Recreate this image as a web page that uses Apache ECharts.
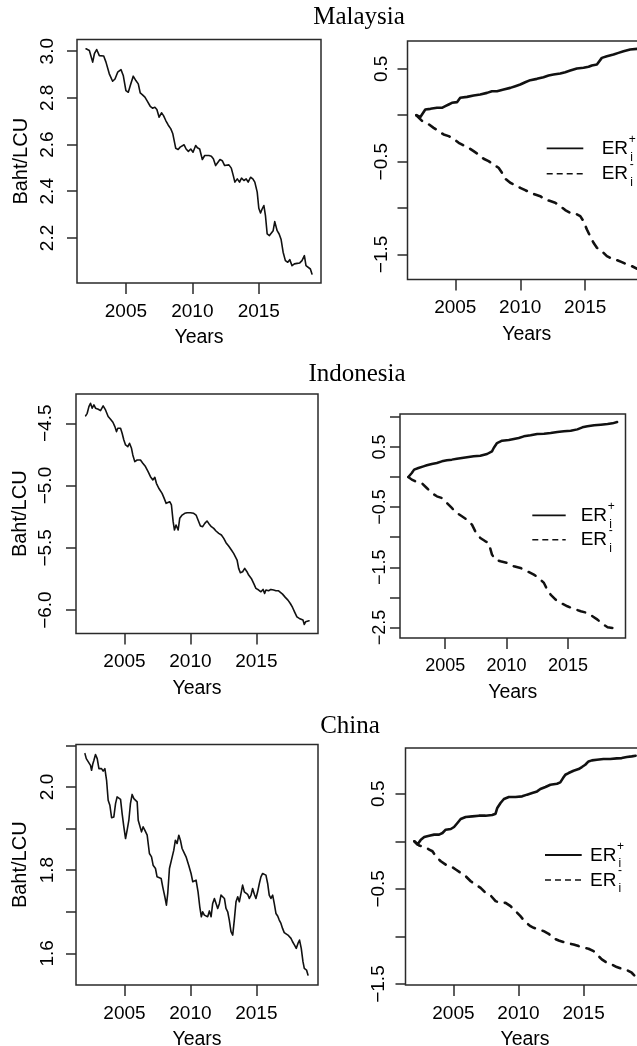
<!DOCTYPE html>
<html>
<head>
<meta charset="utf-8">
<script src="https://cdn.jsdelivr.net/npm/echarts@6/dist/echarts.min.js"></script>
<style>
html,body{margin:0;padding:0;background:#fff;}
#chart{width:637px;height:1046px;}
</style>
</head>
<body>
<div id="chart"></div>
<script>
// ---------------- DATA ----------------
const xTickYears = [2005, 2010, 2015];

const malaysiaRate = [[2002.00,3.010],[2002.25,3.003],[2002.38,2.999],[2002.50,2.953],[2002.63,2.989],[2002.80,3.007],[2003.00,2.981],[2003.13,2.974],[2003.33,2.979],[2003.50,2.953],[2003.63,2.946],[2003.75,2.903],[2004.00,2.871],[2004.18,2.881],[2004.38,2.910],[2004.63,2.921],[2004.80,2.896],[2005.00,2.831],[2005.18,2.824],[2005.33,2.853],[2005.55,2.893],[2005.75,2.874],[2005.93,2.860],[2006.08,2.821],[2006.25,2.813],[2006.43,2.803],[2006.63,2.784],[2006.83,2.764],[2007.00,2.756],[2007.18,2.760],[2007.33,2.750],[2007.50,2.717],[2007.68,2.736],[2007.83,2.724],[2008.00,2.703],[2008.18,2.684],[2008.38,2.667],[2008.53,2.646],[2008.75,2.584],[2008.93,2.579],[2009.08,2.589],[2009.20,2.581],[2009.38,2.599],[2009.53,2.581],[2009.70,2.571],[2009.88,2.581],[2010.05,2.567],[2010.25,2.596],[2010.38,2.586],[2010.55,2.581],[2010.75,2.536],[2010.93,2.553],[2011.08,2.560],[2011.25,2.553],[2011.43,2.550],[2011.58,2.539],[2011.75,2.510],[2011.93,2.524],[2012.08,2.536],[2012.25,2.531],[2012.43,2.510],[2012.58,2.517],[2012.75,2.513],[2012.93,2.499],[2013.08,2.467],[2013.20,2.439],[2013.38,2.453],[2013.55,2.439],[2013.70,2.456],[2013.88,2.446],[2014.05,2.453],[2014.20,2.439],[2014.38,2.460],[2014.55,2.453],[2014.70,2.439],[2014.88,2.396],[2015.00,2.327],[2015.13,2.307],[2015.25,2.324],[2015.38,2.339],[2015.50,2.296],[2015.63,2.217],[2015.80,2.210],[2015.95,2.206],[2016.08,2.231],[2016.20,2.270],[2016.38,2.231],[2016.53,2.217],[2016.68,2.193],[2016.83,2.139],[2017.00,2.103],[2017.18,2.096],[2017.33,2.107],[2017.50,2.081],[2017.68,2.089],[2017.88,2.091],[2018.08,2.093],[2018.25,2.103],[2018.43,2.124],[2018.55,2.081],[2018.70,2.074],[2018.88,2.067],[2019.00,2.046]];

const malaysiaPos = [[2002.00,0.000],[2002.31,-0.018],[2002.69,0.062],[2003.08,0.069],[2003.59,0.080],[2003.97,0.080],[2004.23,0.098],[2004.49,0.116],[2004.74,0.134],[2005.13,0.141],[2005.38,0.188],[2005.90,0.198],[2006.41,0.213],[2006.92,0.224],[2007.44,0.241],[2007.82,0.259],[2008.21,0.259],[2008.72,0.277],[2009.23,0.295],[2009.62,0.313],[2010.00,0.331],[2010.38,0.356],[2010.77,0.378],[2011.28,0.392],[2011.79,0.410],[2012.18,0.428],[2012.56,0.439],[2013.08,0.450],[2013.46,0.464],[2013.85,0.482],[2014.36,0.504],[2014.87,0.511],[2015.26,0.522],[2015.51,0.536],[2015.90,0.547],[2016.28,0.618],[2016.67,0.636],[2017.18,0.654],[2017.56,0.672],[2017.95,0.690],[2018.46,0.708],[2019.00,0.715]];

const malaysiaNeg = [[2002.00,0.000],[2002.44,-0.061],[2002.95,-0.097],[2003.33,-0.136],[2003.72,-0.171],[2004.10,-0.207],[2004.49,-0.225],[2004.87,-0.254],[2005.26,-0.297],[2005.64,-0.326],[2006.03,-0.351],[2006.41,-0.387],[2006.79,-0.423],[2007.18,-0.469],[2007.56,-0.495],[2007.95,-0.531],[2008.33,-0.566],[2008.59,-0.620],[2008.85,-0.685],[2009.23,-0.728],[2009.62,-0.753],[2010.00,-0.782],[2010.38,-0.807],[2010.77,-0.836],[2011.15,-0.854],[2011.54,-0.872],[2011.92,-0.908],[2012.31,-0.925],[2012.69,-0.943],[2013.08,-0.979],[2013.46,-1.022],[2013.85,-1.051],[2014.23,-1.058],[2014.62,-1.087],[2014.87,-1.141],[2015.13,-1.231],[2015.38,-1.303],[2015.64,-1.374],[2015.90,-1.428],[2016.28,-1.464],[2016.67,-1.518],[2017.05,-1.547],[2017.44,-1.561],[2017.82,-1.583],[2018.21,-1.608],[2018.59,-1.626],[2019.00,-1.654]];

const indonesiaRate = [[2002.05,-4.441],[2002.17,-4.420],[2002.30,-4.366],[2002.42,-4.339],[2002.55,-4.379],[2002.68,-4.353],[2002.80,-4.379],[2003.01,-4.387],[2003.18,-4.398],[2003.38,-4.361],[2003.56,-4.393],[2003.76,-4.446],[2003.94,-4.468],[2004.12,-4.492],[2004.27,-4.527],[2004.39,-4.567],[2004.49,-4.540],[2004.70,-4.540],[2004.82,-4.580],[2004.95,-4.634],[2005.08,-4.674],[2005.25,-4.688],[2005.38,-4.661],[2005.53,-4.701],[2005.63,-4.754],[2005.78,-4.808],[2005.96,-4.795],[2006.21,-4.795],[2006.39,-4.821],[2006.59,-4.848],[2006.79,-4.888],[2006.97,-4.929],[2007.15,-4.955],[2007.30,-4.934],[2007.42,-4.982],[2007.60,-5.022],[2007.73,-5.030],[2007.85,-5.063],[2007.98,-5.095],[2008.16,-5.143],[2008.31,-5.156],[2008.43,-5.130],[2008.56,-5.156],[2008.69,-5.290],[2008.79,-5.357],[2008.91,-5.317],[2009.07,-5.357],[2009.19,-5.263],[2009.37,-5.237],[2009.57,-5.223],[2009.75,-5.218],[2010.00,-5.218],[2010.25,-5.223],[2010.43,-5.237],[2010.58,-5.277],[2010.76,-5.325],[2010.93,-5.330],[2011.09,-5.304],[2011.26,-5.285],[2011.39,-5.304],[2011.59,-5.330],[2011.77,-5.344],[2011.94,-5.365],[2012.15,-5.384],[2012.35,-5.397],[2012.53,-5.424],[2012.70,-5.459],[2012.90,-5.486],[2013.11,-5.518],[2013.28,-5.545],[2013.41,-5.531],[2013.54,-5.598],[2013.66,-5.665],[2013.79,-5.700],[2013.96,-5.692],[2014.12,-5.665],[2014.29,-5.692],[2014.42,-5.719],[2014.62,-5.746],[2014.80,-5.786],[2014.97,-5.826],[2015.18,-5.839],[2015.35,-5.853],[2015.51,-5.834],[2015.63,-5.866],[2015.73,-5.839],[2015.93,-5.845],[2016.11,-5.834],[2016.31,-5.839],[2016.49,-5.845],[2016.69,-5.845],[2016.82,-5.853],[2016.99,-5.872],[2017.20,-5.898],[2017.40,-5.920],[2017.58,-5.947],[2017.75,-5.979],[2017.90,-6.014],[2018.08,-6.054],[2018.26,-6.067],[2018.41,-6.059],[2018.54,-6.080],[2018.64,-6.115],[2018.74,-6.094],[2018.84,-6.086],[2019.00,-6.086]];

const indonesiaPos = [[2002.00,0.000],[2002.14,-0.028],[2002.28,0.066],[2002.47,0.122],[2002.82,0.149],[2003.23,0.177],[2003.50,0.194],[2003.91,0.216],[2004.32,0.232],[2004.73,0.260],[2005.14,0.277],[2005.54,0.288],[2005.95,0.304],[2006.36,0.315],[2006.77,0.327],[2007.32,0.343],[2007.86,0.354],[2008.41,0.382],[2008.81,0.426],[2008.95,0.481],[2009.22,0.564],[2009.63,0.603],[2010.18,0.614],[2010.59,0.631],[2010.99,0.647],[2011.40,0.675],[2011.95,0.692],[2012.49,0.714],[2013.04,0.719],[2013.58,0.730],[2014.13,0.747],[2014.67,0.758],[2015.22,0.769],[2015.76,0.791],[2016.17,0.825],[2016.58,0.841],[2017.13,0.858],[2017.67,0.869],[2018.22,0.880],[2018.62,0.891],[2019.00,0.913]];

const indonesiaNeg = [[2002.00,0.000],[2002.28,-0.044],[2002.56,-0.072],[2003.09,-0.100],[2003.50,-0.183],[2003.91,-0.266],[2004.32,-0.321],[2004.73,-0.349],[2005.14,-0.432],[2005.54,-0.515],[2005.95,-0.598],[2006.36,-0.653],[2006.77,-0.708],[2007.18,-0.791],[2007.45,-0.902],[2007.86,-1.013],[2008.27,-1.068],[2008.54,-1.096],[2008.81,-1.289],[2009.09,-1.372],[2009.50,-1.400],[2010.04,-1.428],[2010.59,-1.483],[2011.13,-1.511],[2011.68,-1.566],[2012.22,-1.622],[2012.63,-1.677],[2013.04,-1.760],[2013.31,-1.871],[2013.58,-1.954],[2013.99,-2.037],[2014.40,-2.092],[2014.95,-2.147],[2015.49,-2.191],[2016.04,-2.230],[2016.58,-2.258],[2016.99,-2.313],[2017.40,-2.369],[2017.81,-2.441],[2018.22,-2.496],[2018.62,-2.507],[2019.00,-2.562]];

const chinaRate = [[2002.00,2.080],[2002.10,2.068],[2002.25,2.064],[2002.42,2.052],[2002.50,2.040],[2002.60,2.056],[2002.68,2.064],[2002.80,2.078],[2002.93,2.068],[2003.06,2.044],[2003.26,2.044],[2003.38,2.038],[2003.51,2.044],[2003.64,2.016],[2003.76,1.968],[2003.89,1.956],[2004.02,1.926],[2004.19,1.928],[2004.32,1.960],[2004.44,1.976],[2004.57,1.980],[2004.70,1.970],[2004.82,1.936],[2004.95,1.904],[2005.08,1.876],[2005.20,1.896],[2005.33,1.920],[2005.45,1.960],[2005.58,1.982],[2005.71,1.972],[2005.83,1.974],[2005.96,1.964],[2006.04,1.920],[2006.16,1.916],[2006.29,1.892],[2006.41,1.904],[2006.54,1.896],[2006.72,1.884],[2006.89,1.840],[2007.05,1.832],[2007.17,1.812],[2007.35,1.804],[2007.47,1.784],[2007.60,1.788],[2007.78,1.780],[2007.90,1.760],[2008.06,1.736],[2008.18,1.716],[2008.28,1.744],[2008.41,1.804],[2008.56,1.824],[2008.74,1.848],[2008.86,1.872],[2008.99,1.864],[2009.12,1.884],[2009.24,1.872],[2009.37,1.852],[2009.49,1.844],[2009.67,1.832],[2009.87,1.812],[2010.05,1.792],[2010.18,1.772],[2010.30,1.768],[2010.43,1.776],[2010.58,1.748],[2010.71,1.712],[2010.83,1.688],[2010.93,1.700],[2011.06,1.692],[2011.19,1.696],[2011.31,1.688],[2011.44,1.702],[2011.57,1.688],[2011.69,1.720],[2011.82,1.732],[2011.94,1.736],[2012.07,1.708],[2012.20,1.720],[2012.32,1.740],[2012.45,1.744],[2012.58,1.732],[2012.70,1.708],[2012.83,1.700],[2012.95,1.680],[2013.08,1.652],[2013.21,1.644],[2013.33,1.680],[2013.46,1.724],[2013.59,1.736],[2013.71,1.724],[2013.84,1.744],[2013.96,1.764],[2014.09,1.748],[2014.22,1.748],[2014.34,1.742],[2014.47,1.732],[2014.60,1.740],[2014.72,1.756],[2014.85,1.742],[2014.97,1.732],[2015.10,1.748],[2015.23,1.768],[2015.35,1.784],[2015.48,1.792],[2015.61,1.792],[2015.73,1.788],[2015.86,1.768],[2015.98,1.740],[2016.11,1.732],[2016.24,1.740],[2016.36,1.720],[2016.49,1.696],[2016.62,1.690],[2016.74,1.680],[2016.87,1.672],[2016.99,1.660],[2017.12,1.650],[2017.25,1.646],[2017.40,1.644],[2017.50,1.646],[2017.63,1.636],[2017.75,1.628],[2017.90,1.620],[2018.03,1.612],[2018.16,1.624],[2018.28,1.632],[2018.41,1.612],[2018.54,1.580],[2018.64,1.564],[2018.71,1.560],[2018.81,1.560],[2018.92,1.548]];

const chinaPos = [[2002.00,0.000],[2002.24,-0.035],[2002.50,0.017],[2002.76,0.045],[2003.14,0.059],[2003.52,0.070],[2003.90,0.070],[2004.16,0.087],[2004.41,0.122],[2004.80,0.129],[2005.05,0.150],[2005.31,0.192],[2005.56,0.234],[2005.94,0.255],[2006.45,0.262],[2006.96,0.269],[2007.47,0.269],[2007.98,0.276],[2008.24,0.290],[2008.37,0.350],[2008.62,0.402],[2008.88,0.444],[2009.26,0.465],[2009.77,0.465],[2010.28,0.472],[2010.66,0.490],[2011.05,0.507],[2011.43,0.524],[2011.68,0.549],[2012.07,0.570],[2012.45,0.594],[2012.96,0.605],[2013.21,0.619],[2013.42,0.664],[2013.60,0.699],[2013.85,0.717],[2014.23,0.741],[2014.62,0.759],[2014.87,0.780],[2015.13,0.804],[2015.38,0.839],[2015.64,0.850],[2016.02,0.857],[2016.53,0.864],[2017.04,0.864],[2017.55,0.871],[2017.93,0.874],[2018.32,0.885],[2018.70,0.892],[2019.00,0.899]];

const chinaNeg = [[2002.00,0.000],[2002.37,-0.045],[2002.76,-0.059],[2003.14,-0.087],[2003.39,-0.105],[2003.65,-0.157],[2004.03,-0.210],[2004.41,-0.245],[2004.80,-0.262],[2005.18,-0.297],[2005.56,-0.332],[2005.94,-0.367],[2006.33,-0.420],[2006.71,-0.455],[2007.09,-0.490],[2007.47,-0.542],[2007.86,-0.570],[2008.24,-0.629],[2008.62,-0.647],[2009.01,-0.647],[2009.39,-0.682],[2009.77,-0.734],[2010.15,-0.787],[2010.54,-0.850],[2010.92,-0.892],[2011.17,-0.909],[2011.56,-0.927],[2011.94,-0.944],[2012.32,-0.972],[2012.70,-1.021],[2013.09,-1.042],[2013.47,-1.059],[2013.85,-1.073],[2014.23,-1.084],[2014.62,-1.101],[2015.00,-1.119],[2015.38,-1.129],[2015.77,-1.154],[2016.02,-1.189],[2016.40,-1.241],[2016.79,-1.276],[2017.17,-1.294],[2017.55,-1.322],[2017.93,-1.339],[2018.32,-1.353],[2018.70,-1.381],[2019.00,-1.423]];

const malaysiaRateTicks = [2.2, 2.4, 2.6, 2.8, 3.0];
const malaysiaRateLabels = [2.2, 2.4, 2.6, 2.8, 3.0];
const malaysiaAsymTicks = [-1.5, -1.0, -0.5, 0, 0.5];
const malaysiaAsymLabels = [-1.5, -0.5, 0.5];
const indonesiaRateTicks = [-6.0, -5.5, -5.0, -4.5];
const indonesiaRateLabels = [-6.0, -5.5, -5.0, -4.5];
const indonesiaAsymTicks = [-2.5, -2.0, -1.5, -1.0, -0.5, 0, 0.5, 1.0];
const indonesiaAsymLabels = [-2.5, -1.5, -0.5, 0.5];
const chinaRateTicks = [1.6, 1.7, 1.8, 1.9, 2.0, 2.1];
const chinaRateLabels = [1.6, 1.8, 2.0];
const chinaAsymTicks = [-1.5, -1.0, -0.5, 0, 0.5];
const chinaAsymLabels = [-1.5, -0.5, 0.5];

const countries = ['Malaysia', 'Indonesia', 'China'];
const yTitle = 'Baht/LCU';
const xTitle = 'Years';
const posName = 'ER+';
const negName = 'ER-';

// ---------------- LAYOUT ----------------
const X_MIN = 2001.32, X_MAX = 2019.68;
const INK = '#111';
const BOX = '#2a2a2a';

const panels = [
  { box:{left:77, top:39.5, width:244, height:243.5}, yMin:2.007, yMax:3.05,
    ticks:malaysiaRateTicks, labels:malaysiaRateLabels, yLabelMargin:20, yName:true,
    lines:[{data:malaysiaRate, name:'Malaysia', dashed:false, w:1.6}] },
  { box:{left:407.5, top:41, width:238.5, height:238.5}, yMin:-1.77, yMax:0.80,
    ticks:malaysiaAsymTicks, labels:malaysiaAsymLabels, yLabelMargin:16.5, yName:false,
    lines:[{data:malaysiaPos, name:posName, dashed:false, w:2.6},{data:malaysiaNeg, name:negName, dashed:true, w:2.6}] },
  { box:{left:76, top:394, width:242, height:239.5}, yMin:-6.188, yMax:-4.265,
    ticks:indonesiaRateTicks, labels:indonesiaRateLabels, yLabelMargin:20.5, yName:true,
    lines:[{data:indonesiaRate, name:'Indonesia', dashed:false, w:1.6}] },
  { box:{left:400, top:414, width:225.5, height:224}, yMin:-2.674, yMax:1.046,
    ticks:indonesiaAsymTicks, labels:indonesiaAsymLabels, yLabelMargin:11, yName:false,
    lines:[{data:indonesiaPos, name:posName, dashed:false, w:2.5},{data:indonesiaNeg, name:negName, dashed:true, w:2.5}] },
  { box:{left:76, top:744.5, width:242, height:240.5}, yMin:1.524, yMax:2.102,
    ticks:chinaRateTicks, labels:chinaRateLabels, yLabelMargin:18.5, yName:true,
    lines:[{data:chinaRate, name:'China', dashed:false, w:1.6}] },
  { box:{left:405.5, top:748, width:239, height:237}, yMin:-1.51, yMax:0.98,
    ticks:chinaAsymTicks, labels:chinaAsymLabels, yLabelMargin:17.5, yName:false,
    lines:[{data:chinaPos, name:posName, dashed:false, w:2.6},{data:chinaNeg, name:negName, dashed:true, w:2.6}] }
];

const fmtY = v => (Math.round(v * 10) / 10).toFixed(1).replace('-', '\u2212');
const fmtX = v => String(Math.round(v));
const SANS = 'Liberation Sans, Arial, sans-serif';
const SERIF = 'Liberation Serif, Times New Roman, serif';

const grids = panels.map(p => ({
  left: p.box.left, top: p.box.top, width: p.box.width, height: p.box.height,
  show: true, borderColor: BOX, borderWidth: 1.5, backgroundColor: 'transparent',
  containLabel: false, outerBoundsMode: 'none'
}));

const xAxes = panels.map((p, i) => ({
  type: 'value', gridIndex: i, min: X_MIN, max: X_MAX, position: 'bottom',
  name: xTitle, nameLocation: 'middle', nameGap: 45,
  nameTextStyle: { fontFamily: SANS, fontSize: 19.5, color: '#000' },
  axisLine: { show: false, onZero: false }, splitLine: { show: false },
  axisTick: { show: true, customValues: xTickYears, length: 11, lineStyle: { color: BOX, width: 1.5 } },
  axisLabel: { show: true, customValues: xTickYears, formatter: fmtX, margin: 19,
    fontFamily: SANS, fontSize: (i === 3 ? 18 : 19), color: '#000' }
}));

const yAxes = panels.map((p, i) => ({
  type: 'value', gridIndex: i, min: p.yMin, max: p.yMax, position: 'left',
  name: p.yName ? yTitle : '', nameLocation: 'middle', nameGap: 46, nameRotate: 90,
  nameTextStyle: { fontFamily: SANS, fontSize: 20, color: '#000' },
  axisLine: { show: false, onZero: false }, splitLine: { show: false },
  axisTick: { show: true, customValues: p.ticks, length: 10, lineStyle: { color: BOX, width: 1.5 } },
  axisLabel: { show: true, customValues: p.labels, formatter: fmtY, rotate: 90, margin: p.yLabelMargin,
    fontFamily: SANS, fontSize: (i === 3 ? 18 : 19), color: '#000' }
}));

const series = [];
panels.forEach((p, i) => {
  p.lines.forEach(l => {
    series.push({
      type: 'line', name: l.name, xAxisIndex: i, yAxisIndex: i,
      data: l.data, showSymbol: false, symbol: 'none', silent: true, clip: true,
      lineStyle: { color: INK, width: l.w, type: l.dashed ? [8, 8] : 'solid', cap: 'round', join: 'round' },
      emphasis: { disabled: true }
    });
  });
});

// titles and legends as graphic text
function txt(x, y, s, size, family, align) {
  return { type: 'text', x: x, y: y, silent: true,
    style: { text: s, fill: '#000', font: size + 'px ' + family,
      align: align || 'left', textAlign: align || 'left',
      verticalAlign: 'middle', textVerticalAlign: 'middle' } };
}
function legendEls(x0, x1, y1, y2, erX) {
  return [
    { type: 'line', silent: true, shape: { x1: x0, y1: y1, x2: x1, y2: y1 }, style: { stroke: INK, lineWidth: 1.8 } },
    { type: 'line', silent: true, shape: { x1: x0, y1: y2, x2: x1, y2: y2 }, style: { stroke: INK, lineWidth: 1.6, lineDash: [6, 4] } },
    txt(erX, y1 + 0.5, 'ER', 19, SANS), txt(erX + 27, y1 - 8.5, '+', 12, SANS), txt(erX + 28.5, y1 + 9, 'i', 12, SANS),
    txt(erX, y2 + 0.5, 'ER', 19, SANS), txt(erX + 28, y2 - 9.5, '-', 12, SANS), txt(erX + 28.5, y2 + 9, 'i', 12, SANS)
  ];
}

const graphics = [
  txt(359, 17.7, countries[0], 25, SERIF, 'center'),
  txt(357, 374, countries[1], 25, SERIF, 'center'),
  txt(350, 726.8, countries[2], 25, SERIF, 'center')
].concat(legendEls(546.7, 583.3, 148.3, 173.7, 601.7))
 .concat(legendEls(532.3, 565.7, 515.3, 539.7, 580.7))
 .concat(legendEls(545, 581.7, 855, 880, 590));

const chart = echarts.init(document.getElementById('chart'), null, { renderer: 'canvas' });
chart.setOption({
  animation: false,
  backgroundColor: '#fff',
  grid: grids,
  xAxis: xAxes,
  yAxis: yAxes,
  series: series,
  graphic: { elements: graphics }
});
</script>
</body>
</html>
